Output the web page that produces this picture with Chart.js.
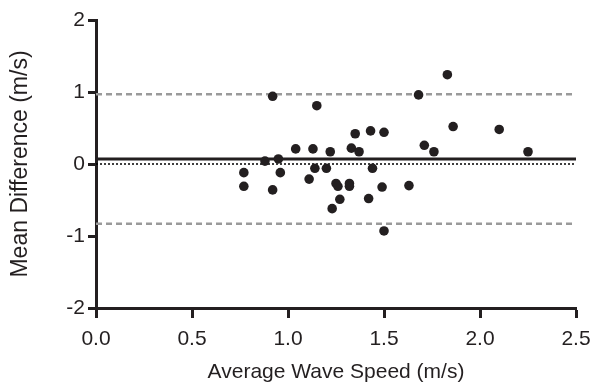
<!DOCTYPE html>
<html>
<head>
<meta charset="utf-8">
<script src="https://cdn.jsdelivr.net/npm/chart.js@4.4.1/dist/chart.umd.min.js"></script>
<style>
  html, body { margin: 0; padding: 0; background: #fff; }
  #wrap { width: 592px; height: 384px; }
</style>
</head>
<body>
<div id="wrap"><canvas id="bland"></canvas></div>
<script>
// Bland-Altman: average wave speed vs mean difference
const avgSpeed = [0.77, 0.77, 0.88, 0.92, 0.92, 0.95, 0.96, 1.04, 1.11, 1.13, 1.14, 1.15,
  1.20, 1.22, 1.23, 1.25, 1.26, 1.27, 1.32, 1.32, 1.33, 1.35, 1.37, 1.42, 1.43, 1.44,
  1.49, 1.50, 1.50, 1.63, 1.68, 1.71, 1.76, 1.83, 1.86, 2.10, 2.25];
const meanDiff = [-0.12, -0.31, 0.04, -0.36, 0.94, 0.07, -0.12, 0.21, -0.21, 0.21, -0.06, 0.81,
  -0.06, 0.17, -0.62, -0.27, -0.31, -0.49, -0.27, -0.31, 0.22, 0.42, 0.17, -0.48, 0.46, -0.06,
  -0.32, 0.44, -0.93, -0.30, 0.96, 0.26, 0.17, 1.24, 0.52, 0.48, 0.17];

const xRange = [0, 2.5];
const bias = 0.07;
const upperLimit = 0.97;
const lowerLimit = -0.83;
const xTicks = [0, 0.5, 1.0, 1.5, 2.0, 2.5];
const yTicks = [-2, -1, 0, 1, 2];

const points = avgSpeed.map((x, i) => ({ x: x, y: meanDiff[i] }));
const hline = (v) => xRange.map(x => ({ x: x, y: v }));

const CANVAS = document.querySelector("#bland");

let grafico = new Chart(CANVAS, {
  type: "scatter",
  data: {
    datasets: [
      {
        label: "Differences",
        data: points,
        backgroundColor: "#231f20",
        borderWidth: 0,
        pointRadius: 4.8,
      },
      {
        label: "Bias",
        type: "line",
        data: hline(bias),
        borderColor: "#231f20",
        borderWidth: 3,
        pointRadius: 0,
      },
      {
        label: "Zero",
        type: "line",
        data: hline(0),
        borderColor: "#000",
        borderWidth: 1.5,
        borderDash: [2, 2],
        pointRadius: 0,
      },
      {
        label: "Upper LoA",
        type: "line",
        data: hline(upperLimit),
        borderColor: "#9a9a9a",
        borderWidth: 2.5,
        borderDash: [6, 4],
        pointRadius: 0,
      },
      {
        label: "Lower LoA",
        type: "line",
        data: hline(lowerLimit),
        borderColor: "#9a9a9a",
        borderWidth: 2.5,
        borderDash: [6, 4],
        pointRadius: 0,
      },
    ],
  },
  options: {
    responsive: true,
    maintainAspectRatio: false,
    animation: false,
    layout: { padding: { left: 0, top: 20, right: 16, bottom: 0 } },
    plugins: {
      legend: { display: false },
      tooltip: { enabled: false },
    },
    scales: {
      x: {
        type: "linear",
        min: xRange[0],
        max: xRange[1],
        afterFit: (s) => { s.height = 76; s.paddingLeft = 0; s.paddingRight = 0; },
        afterBuildTicks: (s) => { s.ticks = xTicks.map(v => ({ value: v })); },
        border: { color: "#231f20", width: 3 },
        grid: { drawOnChartArea: false, drawTicks: true, tickLength: 10, tickWidth: 3, tickColor: "#231f20" },
        ticks: {
          color: "#231f20",
          padding: 9,
          font: { family: "Liberation Sans", size: 21 },
          callback: (v) => Number(v).toFixed(1),
        },
        title: {
          display: true,
          text: "Average Wave Speed (m/s)",
          color: "#231f20",
          font: { family: "Liberation Sans", size: 21 },
          padding: { top: 0, bottom: -1 },
        },
      },
      y: {
        type: "linear",
        min: -2,
        max: 2,
        afterFit: (s) => { s.width = 96; s.paddingTop = 0; s.paddingBottom = 0; },
        afterBuildTicks: (s) => { s.ticks = yTicks.map(v => ({ value: v })); },
        border: { color: "#231f20", width: 3 },
        grid: { drawOnChartArea: false, drawTicks: true, tickLength: 8, tickWidth: 3, tickColor: "#231f20" },
        ticks: {
          color: "#231f20",
          padding: 3,
          font: { family: "Liberation Sans", size: 21 },
        },
        title: {
          display: true,
          text: "Mean Difference (m/s)",
          color: "#231f20",
          font: { family: "Liberation Sans", size: 23 },
          padding: { top: 7, bottom: 0 },
        },
      },
    },
  },
});
</script>
</body>
</html>
